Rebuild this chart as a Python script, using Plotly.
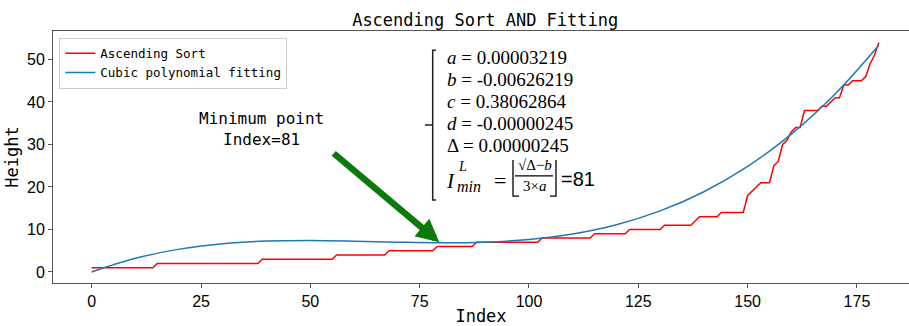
import plotly.graph_objects as go

# ---- data ----
sort_levels = [1, 2, 3, 4, 5, 6, 7, 8, 9, 10, 11, 12, 13, 14, 18, 19, 20, 21,
               25, 26, 30, 31, 33, 34, 38, 39, 40, 41, 44, 45, 46, 49, 51, 54]
sort_counts = [15, 24, 17, 12, 11, 9, 15, 12, 8, 8, 7, 1, 5, 6, 1, 1, 1, 3,
               1, 1, 1, 1, 1, 2, 4, 2, 1, 2, 2, 3, 1, 1, 1, 1]
heights = [lv for lv, n in zip(sort_levels, sort_counts) for _ in range(n)]
index = list(range(len(heights)))

fit_index = [0, 10, 20, 30, 40, 50, 60, 70, 80, 90, 100, 110, 120, 130, 140, 150, 160, 170, 180]
fit_height = [0.0, 3.21, 5.37, 6.65, 7.27, 7.40, 7.25, 7.00, 6.85, 7.00, 7.63, 8.94,
              11.12, 14.37, 18.88, 24.84, 32.44, 41.88, 53.35]

x_ticks = [0, 25, 50, 75, 100, 125, 150, 175]
y_ticks = [0, 10, 20, 30, 40, 50]

coef_lines = ["<i>a</i> = 0.00003219", "<i>b</i> = -0.00626219", "<i>c</i> = 0.38062864",
              "<i>d</i> = -0.00000245", "Δ = 0.00000245"]

# ---- layout geometry (pixels) ----
W, H = 909, 326
ML, MR, MT, MB = 53, 0, 31, 37
PW, PH = W - ML - MR, H - MT - MB


def px(x):
    return (x - ML) / PW


def py(y):
    return 1 - (y - MT) / PH


MONO = "DejaVu Sans Mono"
SERIF = "Liberation Serif"
AX = "#555555"

fig = go.Figure()
fig.add_trace(go.Scatter(x=index, y=heights, mode="lines", name="Ascending Sort",
                         line=dict(color="#ff0000", width=1.5)))
fig.add_trace(go.Scatter(x=fit_index, y=fit_height, mode="lines", name="Cubic polynomial fitting",
                         line=dict(color="#1f77b4", width=1.5, shape="spline")))

ann = []
# arrow
ann.append(dict(x=79.5, y=7.0, ax=55.0, ay=28.2, xref="x", yref="y", axref="x", ayref="y",
                text="", showarrow=True, arrowhead=2, arrowsize=0.7, arrowwidth=6.5,
                arrowcolor="#0a7a0a", standoff=0))
ann.append(dict(x=px(261), y=py(131.5), xref="paper", yref="paper",
                text="Minimum point<br>Index=81", align="center",
                showarrow=False, font=dict(family=MONO, size=16, color="black"),
                xanchor="center", yanchor="middle"))
# coefficient block
for i, t in enumerate(coef_lines):
    ann.append(dict(x=px(445), y=py(58.5 + 22.5 * i), xref="paper", yref="paper", text=t,
                    showarrow=False, font=dict(family=SERIF, size=19, color="black"),
                    xanchor="left", yanchor="middle"))
# last formula line
ann.append(dict(x=px(444), y=py(185), xref="paper", yref="paper", text="<i>I</i>",
                showarrow=False, font=dict(family=SERIF, size=21, color="black"),
                xanchor="left", yanchor="middle"))
ann.append(dict(x=px(456), y=py(169.5), xref="paper", yref="paper", text="<i>L</i>",
                showarrow=False, font=dict(family=SERIF, size=14, color="black"),
                xanchor="left", yanchor="middle"))
ann.append(dict(x=px(455), y=py(190), xref="paper", yref="paper", text="<i>min</i>",
                showarrow=False, font=dict(family=SERIF, size=16, color="black"),
                xanchor="left", yanchor="middle"))
ann.append(dict(x=px(500), y=py(184), xref="paper", yref="paper", text="=",
                showarrow=False, font=dict(family=SERIF, size=22, color="black"),
                xanchor="center", yanchor="middle"))
ann.append(dict(x=px(534.5), y=py(168.5), xref="paper", yref="paper", text="√Δ−<i>b</i>",
                showarrow=False, font=dict(family=SERIF, size=15, color="black"),
                xanchor="center", yanchor="middle"))
ann.append(dict(x=px(534), y=py(189.5), xref="paper", yref="paper", text="3×<i>a</i>",
                showarrow=False, font=dict(family=SERIF, size=15, color="black"),
                xanchor="center", yanchor="middle"))
ann.append(dict(x=px(559), y=py(183), xref="paper", yref="paper", text="=81",
                showarrow=False, font=dict(family="Liberation Sans", size=20, color="black"),
                xanchor="left", yanchor="middle"))

shapes = []
brace = (f"M {px(436)},{py(50.7)} L {px(432.7)},{py(50.7)} L {px(432.7)},{py(204)} "
         f"L {px(436)},{py(204)} M {px(432.7)},{py(127.3)} L {px(425)},{py(127.3)}")
shapes.append(dict(type="path", path=brace, xref="paper", yref="paper",
                   line=dict(color="#222222", width=1.5)))
lb = f"M {px(513)},{py(163)} L {px(513)},{py(200)} L {px(519)},{py(200)}"
rb = f"M {px(556)},{py(163)} L {px(556)},{py(200)} L {px(550)},{py(200)}"
bar = f"M {px(515)},{py(179.3)} L {px(553)},{py(179.3)}"
for p in (lb, rb, bar):
    shapes.append(dict(type="path", path=p, xref="paper", yref="paper",
                       line=dict(color="black", width=1.3)))

fig.update_layout(
    width=W, height=H,
    margin=dict(l=ML, r=MR, t=MT, b=MB, pad=0),
    paper_bgcolor="white", plot_bgcolor="white",
    title=dict(text="Ascending Sort AND Fitting", x=px(485.2), xref="paper", xanchor="center",
               y=1 - 20 / H, yref="container", yanchor="middle",
               font=dict(family=MONO, size=17, color="black")),
    legend=dict(x=px(59.3), y=py(37.7), xanchor="left", yanchor="top",
                bgcolor="rgba(255,255,255,0.8)", bordercolor="#cccccc", borderwidth=1,
                font=dict(family=MONO, size=12.5, color="black"), itemwidth=30,
                tracegroupgap=0),
    annotations=ann,
    shapes=shapes,
    showlegend=True,
)
fig.update_xaxes(range=[-8.85, 186.9], tickvals=x_ticks, ticks="outside", ticklen=4,
                 tickcolor=AX, showline=True, linecolor=AX, linewidth=1, mirror=True,
                 showgrid=False, zeroline=False,
                 tickfont=dict(family="Liberation Sans", size=16, color="black"),
                 title=dict(text="Index", font=dict(family=MONO, size=17, color="black"),
                            standoff=4))
fig.update_yaxes(range=[-2.6, 56.7], tickvals=y_ticks, ticks="outside", ticklen=4,
                 tickcolor=AX, showline=True, linecolor=AX, linewidth=1, mirror=False,
                 showgrid=False, zeroline=False,
                 tickfont=dict(family="Liberation Sans", size=16, color="black"),
                 title=dict(text="Height", font=dict(family=MONO, size=17, color="black"),
                            standoff=4))

fig.write_html("out.html")
